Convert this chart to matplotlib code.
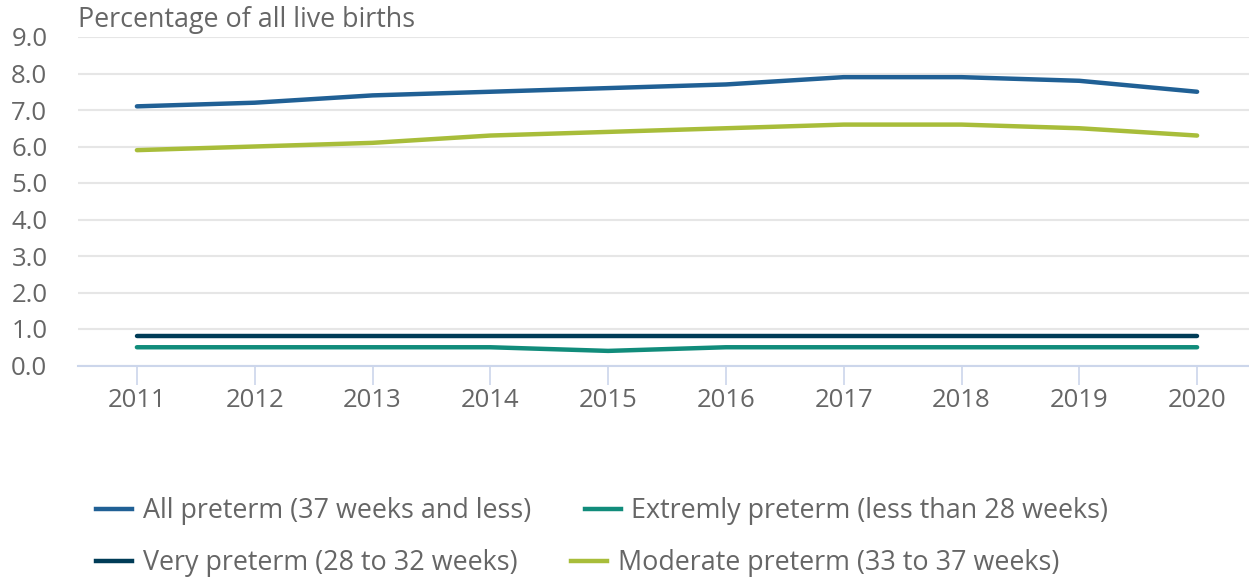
import numpy as np
import matplotlib.pyplot as plt
from matplotlib.lines import Line2D

# data
years = [2011, 2012, 2013, 2014, 2015, 2016, 2017, 2018, 2019, 2020]
all_preterm = [7.1, 7.2, 7.4, 7.5, 7.6, 7.7, 7.9, 7.9, 7.8, 7.5]
extremely_preterm = [0.5, 0.5, 0.5, 0.5, 0.4, 0.5, 0.5, 0.5, 0.5, 0.5]
very_preterm = [0.8, 0.8, 0.8, 0.8, 0.8, 0.8, 0.8, 0.8, 0.8, 0.8]
moderate_preterm = [5.9, 6.0, 6.1, 6.3, 6.4, 6.5, 6.6, 6.6, 6.5, 6.3]

labels = ["All preterm (37 weeks and less)",
          "Extremly preterm (less than 28 weeks)",
          "Very preterm (28 to 32 weeks)",
          "Moderate preterm (33 to 37 weeks)"]
colors = ["#206095", "#118c7b", "#003c57", "#a8bd3a"]
yticks = [0, 1, 2, 3, 4, 5, 6, 7, 8, 9]

plt.rcParams['font.family'] = ['Open Sans', 'DejaVu Sans']
txt = "#666666"

W, H = 1249, 580
fig = plt.figure(figsize=(W / 100, H / 100), dpi=100)
ax = fig.add_axes([78 / W, (H - 365.5) / H, 1178 / W, 328.5 / H])

series = [all_preterm, extremely_preterm, very_preterm, moderate_preterm]
for vals, c in zip(series, colors):
    ax.plot(years, vals, color=c, lw=3.2, solid_capstyle='round', zorder=3)

ax.set_xlim(2010.5, 2020.5)
ax.set_ylim(0, 9)
ax.set_yticks(yticks)
ax.set_yticklabels([f"{v:.1f}" for v in yticks])
ax.set_xticks(years)
ax.set_xticklabels([str(y) for y in years])

ax.grid(axis='y', color='#e6e6e6', lw=1.5)
ax.set_axisbelow(True)
for s in ['top', 'right', 'left']:
    ax.spines[s].set_visible(False)
ax.spines['bottom'].set_color('#ccd6eb')
ax.spines['bottom'].set_linewidth(1.5)
ax.tick_params(axis='y', length=0, pad=22, labelsize=18.5, labelcolor=txt)
ax.tick_params(axis='x', length=14, width=1.2, color='#ccd6eb', pad=2,
               labelsize=18.5, labelcolor=txt)

fig.text(78 / W, 1 - 20 / H, "Percentage of all live births", fontsize=19.4,
         color=txt, va='center', ha='left')

# legend, two flowing rows
rows = [[0, 1], [2, 3]]
row_y = [511, 563]
for r, yy in zip(rows, row_y):
    handles = [Line2D([], [], color=colors[i], lw=3.2) for i in r]
    leg = fig.legend(handles, [labels[i] for i in r], loc='center left',
                     bbox_to_anchor=(96 / W, 1 - yy / H), ncol=2, frameon=False,
                     fontsize=19.4, handlelength=1.33, handletextpad=0.4,
                     columnspacing=2.0, labelcolor=txt, borderpad=0,
                     borderaxespad=0)

fig.savefig("out.png", dpi=100)
